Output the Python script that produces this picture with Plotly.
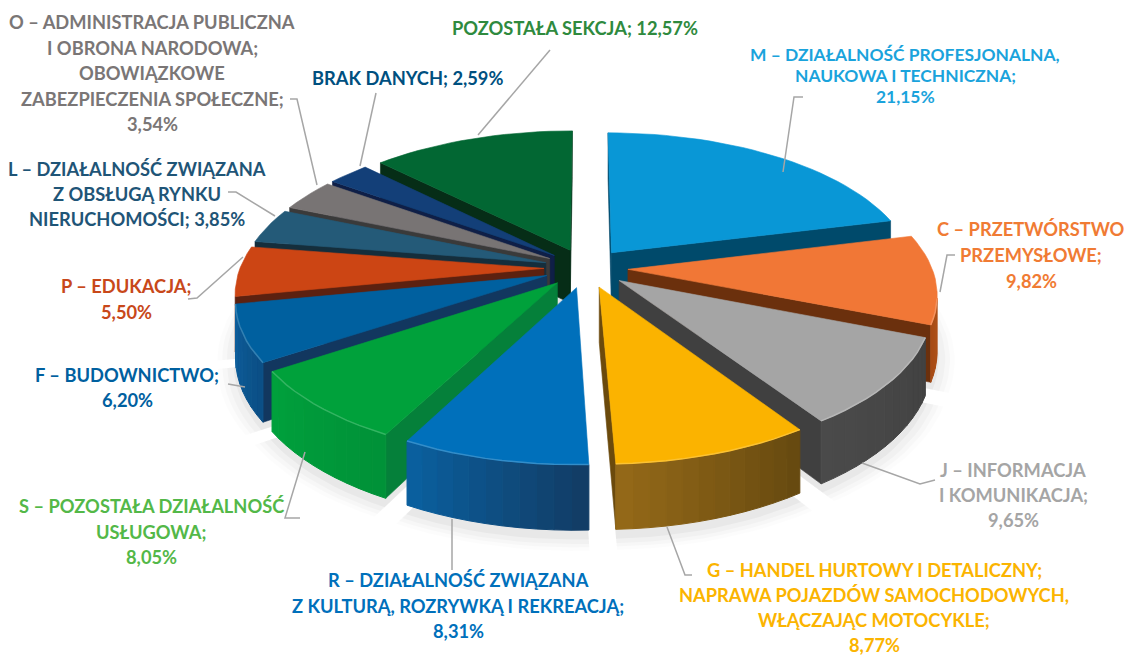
import math
import plotly.graph_objects as go

categories = ["M", "C", "J", "G", "R", "S", "F", "P", "L", "O", "BRAK", "POZOSTALA"]
values = [21.15, 9.82, 9.65, 8.77, 8.31, 8.05, 6.20, 5.50, 3.85, 3.54, 2.59, 12.57]
top_colors = ["#0997d6", "#f17736", "#a5a5a5", "#fbb300", "#0070bb", "#00a13b",
              "#00609f", "#cc4514", "#245a78", "#787474", "#133f78", "#026733"]
radial_colors = ["#004a6b", "#6b300d", "#404040", "#6b4a0c", "#123d66", "#05803a",
                 "#12375f", "#5c2110", "#152e3c", "#3a3a3a", "#0f1f47", "#062d17"]
rim_start = ["#004a6b", "#c25a1c", "#424242", "#674a10", "#123d66", "#009238",
             "#0b4f86", "#8a3310", "#1d4358", "#4a4848", "#0f2a55", "#04401f"]
rim_end = ["#005a85", "#a84c16", "#4a4a4a", "#936818", "#0a5f9e", "#00a03c",
           "#0e5f9c", "#a23a12", "#1d4358", "#4a4848", "#0f2a55", "#04401f"]

# label lines, colours
label_lines = [
    ["M – DZIAŁALNOŚĆ PROFESJONALNA,", "NAUKOWA I TECHNICZNA;", "21,15%"],
    ["C – PRZETWÓRSTWO", "PRZEMYSŁOWE;", "9,82%"],
    ["J – INFORMACJA", "I KOMUNIKACJA;", "9,65%"],
    ["G – HANDEL HURTOWY I DETALICZNY;", "NAPRAWA POJAZDÓW SAMOCHODOWYCH,", "WŁĄCZAJĄC MOTOCYKLE;", "8,77%"],
    ["R – DZIAŁALNOŚĆ ZWIĄZANA", "Z KULTURĄ, ROZRYWKĄ I REKREACJĄ;", "8,31%"],
    ["S – POZOSTAŁA DZIAŁALNOŚĆ", "USŁUGOWA;", "8,05%"],
    ["F – BUDOWNICTWO;", "6,20%"],
    ["P – EDUKACJA;", "5,50%"],
    ["L – DZIAŁALNOŚĆ ZWIĄZANA", "Z OBSŁUGĄ RYNKU", "NIERUCHOMOŚCI; 3,85%"],
    ["O – ADMINISTRACJA PUBLICZNA", "I OBRONA NARODOWA;", "OBOWIĄZKOWE", "ZABEZPIECZENIA SPOŁECZNE;", "3,54%"],
    ["BRAK DANYCH; 2,59%"],
    ["POZOSTAŁA SEKCJA; 12,57%"],
]
label_colors = ["#1aa3dc", "#f07b34", "#a5a5a5", "#fbb400", "#0070bb", "#53b848",
                "#00609f", "#c8481a", "#1f5577", "#7a7676", "#00507f", "#2f8a3e"]
label_x = [905, 1031, 1013, 874, 458, 151, 127, 126, 137, 152, 407, 575]
label_y = [54, 229, 470, 570, 580, 506, 375, 286, 169, 22, 78, 28]
label_step = [21, 26, 25, 25, 25.5, 25.5, 25, 26, 25, 25.5, 25, 25]
label_size = [17.4, 18.3, 18.3, 18.3, 18.3, 18.3, 18.3, 18.3, 18.3, 18.3, 18.3, 18.3]
leaders = [
    [(803, 97), (794, 97), (783, 172)],
    [(955, 255), (947, 255), (940, 292)],
    [(935, 480), (920, 484), (862, 463)],
    [(692, 575), (685, 575), (667, 527)],
    [(452, 570), (452, 519)],
    [(300, 518), (285, 518), (305, 452)],
    [(228, 384), (245, 387)],
    [(188, 299), (197, 298), (243, 257)],
    [(228, 192), (236, 192), (275, 216)],
    [(290, 99), (297, 99), (317, 185)],
    [(376, 93), (360, 166)],
    [(550, 50), (478, 135)],
]

# projection settings
CX, CY, R, K, P, H, EXPLODE = 586, 268, 304, 0.47, 0.155, 54, 0.138


def project(x, y, z=0.0):
    w = 1 / (1 - P * y)
    return CX + R * x * w, CY + K * R * y * w + H * z * w


def mix(a, b, t):
    ca = [int(a[i:i + 2], 16) for i in (1, 3, 5)]
    cb = [int(b[i:i + 2], 16) for i in (1, 3, 5)]
    return "#%02x%02x%02x" % tuple(round(u + (v - u) * t) for u, v in zip(ca, cb))


def poly(points, color, lw=0.6):
    xs = [p[0] for p in points] + [points[0][0]]
    ys = [p[1] for p in points] + [points[0][1]]
    return go.Scatter(x=xs, y=ys, mode="lines", fill="toself", fillcolor=color,
                      line=dict(color=color, width=lw), hoverinfo="skip", showlegend=False)


def area(pts):
    return sum(pts[i][0] * pts[(i + 1) % len(pts)][1] - pts[(i + 1) % len(pts)][0] * pts[i][1]
               for i in range(len(pts))) / 2


slices = []
cum = 0.0
total = sum(values)
for i, v in enumerate(values):
    a0 = 2 * math.pi * cum / total
    a1 = 2 * math.pi * (cum + v) / total
    cum += v
    mid = (a0 + a1) / 2
    ox, oy = EXPLODE * math.sin(mid), -EXPLODE * math.cos(mid)
    n = max(4, int((a1 - a0) / math.radians(2.5)))
    rim = [(ox + math.sin(a0 + (a1 - a0) * j / n), oy - math.cos(a0 + (a1 - a0) * j / n)) for j in range(n + 1)]
    depth = oy - 0.6 * math.cos(mid)
    slices.append(dict(i=i, ox=ox, oy=oy, rim=rim, depth=depth))

fig = go.Figure()

# soft shadow beneath the pie
for s in slices:
    for grow, alpha in ((1.05, 0.012), (1.035, 0.018), (1.02, 0.025), (1.0, 0.035)):
        pts = [(s["ox"], s["oy"])] + [
            (s["ox"] + (x - s["ox"]) * grow, s["oy"] + (y - s["oy"]) * grow) for x, y in s["rim"]]
        q = [project(x, y + 0.03, 1.04) for x, y in pts]
        fig.add_trace(go.Scatter(x=[p[0] for p in q] + [q[0][0]], y=[p[1] for p in q] + [q[0][1]],
                                 mode="lines", fill="toself", fillcolor=f"rgba(0,0,0,{alpha})",
                                 line=dict(width=0), hoverinfo="skip", showlegend=False))

for s in sorted(slices, key=lambda d: d["depth"]):
    i, rim = s["i"], s["rim"]
    ax, ay = s["ox"], s["oy"]
    # radial faces
    for e in (rim[0], rim[-1]):
        q = [project(ax, ay), project(*e), project(e[0], e[1], 1), project(ax, ay, 1)]
        orient = area(q) * (1 if e is rim[0] else -1)
        if orient < 0:
            fig.add_trace(poly(q, radial_colors[i]))
    # outer wall strips, shaded from one end to the other
    front = []
    m = len(rim) - 1
    for j in range(m):
        q = [project(*rim[j]), project(*rim[j + 1]), project(rim[j + 1][0], rim[j + 1][1], 1),
             project(rim[j][0], rim[j][1], 1)]
        if area(q) > 0:
            continue
        fig.add_trace(poly(q, mix(rim_start[i], rim_end[i], j / max(1, m - 1)), 1.0))
        front.append(j)
    # top face
    top = [project(ax, ay)] + [project(*p) for p in rim]
    fig.add_trace(poly(top, top_colors[i]))
    # light bevel along the front rim
    if front:
        runs = [project(*rim[j]) for j in front] + [project(*rim[front[-1] + 1])]
        fig.add_trace(go.Scatter(x=[p[0] for p in runs], y=[p[1] for p in runs], mode="lines",
                                 line=dict(color=mix(top_colors[i], "#ffffff", 0.2), width=1.5),
                                 hoverinfo="skip", showlegend=False))

shapes = []
for path in leaders:
    d = "M " + " L ".join(f"{x},{y}" for x, y in path)
    shapes.append(dict(type="path", path=d, xref="x", yref="y",
                       line=dict(color="#a6a6a6", width=1.5), layer="above"))

annotations = []
for lines, col, x, y, step, size in zip(label_lines, label_colors, label_x, label_y, label_step, label_size):
    for n, text in enumerate(lines):
        annotations.append(dict(x=x, y=y + n * step, xref="x", yref="y", text=text, showarrow=False,
                                xanchor="center", yanchor="middle",
                                font=dict(family="Lato", size=size, color=col, weight="bold")))

fig.update_layout(
    width=1124, height=655, margin=dict(l=0, r=0, t=0, b=0),
    paper_bgcolor="white", plot_bgcolor="white", showlegend=False,
    xaxis=dict(range=[0, 1124], visible=False, fixedrange=True),
    yaxis=dict(range=[655, 0], visible=False, fixedrange=True),
    shapes=shapes, annotations=annotations,
)
fig.write_html("out.html", config={"displayModeBar": False},
               post_script="document.body.style.margin='0';document.documentElement.style.overflow='hidden';")
